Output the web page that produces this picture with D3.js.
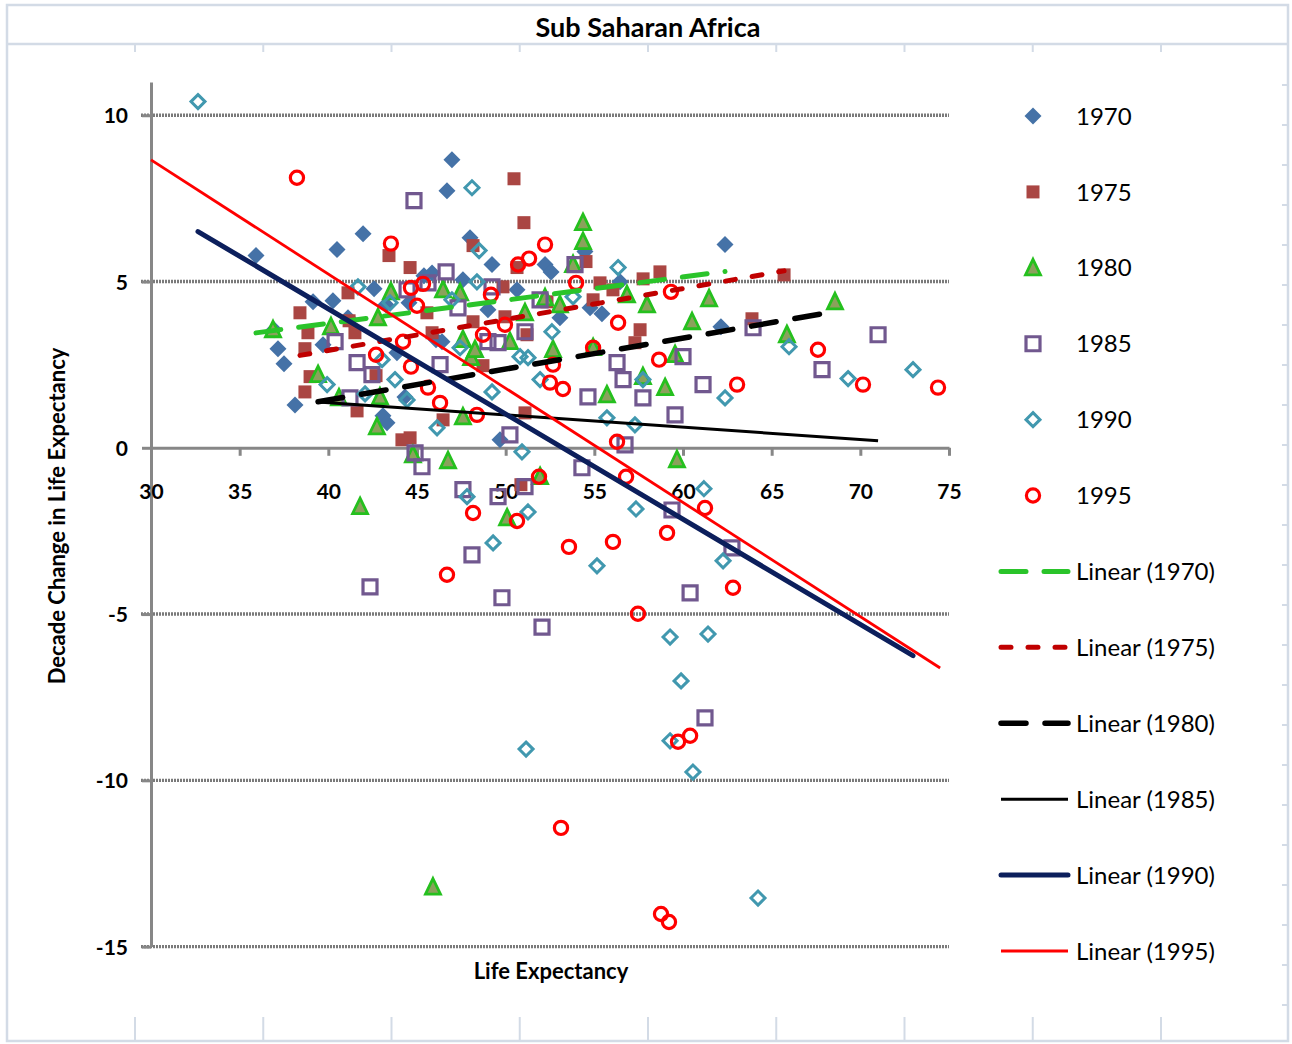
<!DOCTYPE html>
<html>
<head>
<meta charset="utf-8">
<script src="https://cdn.jsdelivr.net/npm/d3@7"></script>
<style>
  body { margin: 0; background: #fff; }
  svg { display: block; font-family: Lato, "Open Sans", sans-serif; }
</style>
</head>
<body>
<svg id="chart" width="1292" height="1044"></svg>
<script>
// series values: life expectancy (x) and decade change (y)
var le1970 = [35.92, 36.94, 37.16, 37.50, 38.12, 39.14, 39.70, 40.26, 40.49, 41.96, 42.58, 43.08, 43.31, 43.25, 43.87, 44.32, 44.55, 45.39, 45.85, 46.07, 46.69, 46.97, 47.59, 47.99, 49.00, 49.23, 49.68, 50.64, 52.22, 52.56, 54.47, 54.76, 55.43, 56.45, 62.14, 62.37, 53.06, 46.41, 41.11];
var dc1970 = [5.78, 3.55, 2.98, 2.53, 1.29, 4.39, 3.10, 4.42, 5.96, 6.44, 4.78, 0.96, 0.75, 4.30, 2.86, 1.53, 4.36, 5.17, 5.26, 3.25, 7.73, 8.66, 5.05, 6.32, 4.15, 5.51, 0.24, 4.75, 5.51, 5.29, 5.90, 4.21, 4.03, 4.99, 3.64, 6.11, 3.91, 3.19, 3.91];

var le1975 = [38.40, 38.85, 38.68, 38.97, 38.68, 41.17, 41.50, 41.62, 42.69, 43.42, 44.61, 41.11, 44.15, 44.61, 45.56, 45.85, 46.47, 48.16, 48.16, 48.72, 49.85, 49.96, 50.47, 51.03, 50.64, 51.20, 51.09, 50.86, 52.33, 54.53, 55.32, 54.93, 56.05, 57.29, 57.58, 57.75, 58.70, 63.89, 65.70];
var dc1975 = [4.06, 3.46, 2.98, 2.14, 1.68, 3.82, 3.46, 1.11, 2.17, 5.78, 5.42, 4.66, 0.24, 0.30, 4.06, 3.46, 0.84, 3.79, 6.08, 2.47, 4.84, 3.94, 8.09, 6.77, 5.42, 3.40, 1.05, -1.11, 4.39, 5.60, 4.96, 4.45, 4.75, 3.16, 3.55, 5.08, 5.29, 3.88, 5.20];

var le1980 = [36.88, 39.42, 40.15, 40.60, 41.79, 42.80, 42.74, 42.91, 43.53, 44.77, 46.47, 46.75, 47.43, 47.59, 47.59, 48.05, 48.27, 50.24, 50.08, 51.09, 51.94, 52.22, 52.67, 53.06, 53.80, 54.36, 54.36, 54.93, 55.71, 56.84, 57.74, 57.97, 58.99, 59.55, 59.66, 60.51, 61.47, 65.86, 68.57, 45.90];
var dc1980 = [3.55, 2.20, 3.64, 1.50, -1.77, 3.91, 0.63, 1.53, 4.69, -0.21, 4.75, -0.39, 4.66, 3.25, 0.93, 2.71, 2.95, 3.19, -2.11, 4.06, -0.87, 4.51, 2.95, 4.30, 5.51, 6.77, 6.20, 3.01, 1.59, 4.60, 2.14, 4.30, 1.81, 2.80, -0.36, 3.79, 4.48, 3.40, 4.39, -13.21];

var le1985 = [40.38, 41.62, 42.46, 41.22, 44.44, 44.83, 44.89, 45.28, 45.62, 46.30, 46.64, 47.31, 47.59, 48.10, 42.35, 49.00, 49.23, 49.57, 49.57, 49.79, 50.24, 51.09, 51.09, 51.94, 52.05, 53.91, 54.30, 54.64, 56.28, 56.62, 56.73, 57.74, 59.38, 59.55, 60.00, 60.40, 61.13, 61.24, 62.76, 63.95, 67.84, 71.00];
var dc1985 = [3.19, 2.56, 2.20, 1.50, 4.75, 7.43, -0.15, -0.57, 4.96, 2.50, 5.29, 4.21, -1.26, -3.22, -4.18, 3.19, 4.84, 3.16, -1.47, -4.51, 0.39, 3.49, -1.17, 4.45, -5.39, 5.51, -0.60, 1.53, 2.56, 2.05, 0.09, 1.50, -1.87, 0.99, 2.74, -4.36, 1.90, -8.12, -3.01, 3.61, 2.35, 3.40];

var le1990 = [32.65, 39.93, 41.67, 42.07, 43.03, 43.48, 43.76, 44.44, 46.13, 46.97, 47.43, 47.82, 48.10, 48.38, 48.50, 49.23, 49.29, 50.81, 50.92, 51.26, 51.26, 51.94, 51.15, 52.61, 53.80, 55.15, 55.71, 56.34, 57.35, 57.29, 57.74, 59.27, 59.27, 59.89, 60.56, 61.18, 61.41, 62.26, 62.37, 64.23, 65.98, 69.31, 72.97];
var dc1990 = [10.41, 1.90, 4.84, 1.62, 2.65, 4.36, 2.05, 1.44, 0.60, 4.45, 3.01, -1.47, 7.82, 4.99, 5.93, 1.68, -2.86, 2.74, -0.12, 2.71, -1.93, 2.05, -9.06, 3.49, 4.54, -3.55, 0.90, 5.42, -1.84, 0.69, 2.05, -5.69, -8.81, -7.01, -9.75, -1.23, -5.60, -3.40, 1.50, -13.54, 3.04, 2.08, 2.35];

var le1995 = [38.23, 42.69, 43.53, 44.21, 44.66, 44.66, 45.00, 45.34, 45.62, 46.30, 46.69, 48.16, 48.38, 48.72, 49.17, 49.96, 50.64, 50.70, 51.32, 51.88, 52.22, 52.50, 52.67, 53.12, 53.23, 53.57, 53.97, 54.93, 56.05, 56.28, 56.34, 56.79, 57.46, 58.65, 58.76, 59.10, 59.21, 59.32, 59.72, 60.40, 61.24, 62.82, 63.05, 67.61, 70.15, 74.38];
var dc1995 = [8.12, 2.80, 6.14, 3.19, 4.81, 2.44, 4.27, 4.93, 1.81, 1.35, -3.82, -1.96, 0.99, 3.40, 4.60, 3.70, -2.20, 5.51, 5.69, -0.87, 6.11, 1.96, 2.50, -11.43, 1.77, -2.98, 4.96, 3.01, -2.83, 0.18, 3.76, -0.87, -4.99, 2.65, -14.02, -2.56, -14.26, 4.69, -8.84, -8.66, -1.81, -4.21, 1.90, 2.95, 1.90, 1.81];

var years = ['1970', '1975', '1980', '1985', '1990', '1995'];

// linear trendlines
var trendSlope = [0.0698, 0.0931, 0.0931, -0.0370, -0.3163, -0.3434];
var trendIntercept = [0.949, -0.797, -2.287, 2.838, 16.83, 18.96];
var trendFrom = [35.92, 38.40, 39.42, 39.42, 32.65, 30.0];
var trendTo = [62.37, 65.70, 68.57, 71.00, 72.97, 74.5];

var xTicks = [30, 35, 40, 45, 50, 55, 60, 65, 70, 75];
var yTicks = [-15, -10, -5, 0, 5, 10];

var svg = d3.select('#chart');
var frame = '#d3dbe6';

// sheet frame
svg.append('rect').attr('x', 7).attr('y', 5).attr('width', 1281).attr('height', 1036)
  .attr('fill', '#fff').attr('stroke', frame).attr('stroke-width', 2.5);
svg.append('line').attr('x1', 7).attr('x2', 1288).attr('y1', 44).attr('y2', 44)
  .attr('stroke', frame).attr('stroke-width', 2.5);
d3.range(9).forEach(function(k) {
  var cx = 135 + k * 128.25;
  svg.append('line').attr('x1', cx).attr('x2', cx).attr('y1', 44).attr('y2', 52)
    .attr('stroke', frame).attr('stroke-width', 2);
  svg.append('line').attr('x1', cx).attr('x2', cx).attr('y1', 1017).attr('y2', 1041)
    .attr('stroke', frame).attr('stroke-width', 2);
});
d3.range(24).forEach(function(k) {
  svg.append('line').attr('x1', 1282).attr('x2', 1288).attr('y1', 85 + k * 40).attr('y2', 85 + k * 40)
    .attr('stroke', frame).attr('stroke-width', 2);
});

svg.append('text').attr('x', 648).attr('y', 37).attr('text-anchor', 'middle')
  .attr('font-size', 27).attr('font-weight', 'bold').text('Sub Saharan Africa');

var x = d3.scaleLinear().domain([30, 75]).range([151, 949]);
var y = d3.scaleLinear().domain([-15, 11]).range([946.6, 82]);

// gridlines
svg.append('g').selectAll('line')
  .data(yTicks.filter(function(d) { return d !== 0; }))
  .join('line')
  .attr('x1', 141).attr('x2', x(75))
  .attr('y1', function(d) { return y(d); }).attr('y2', function(d) { return y(d); })
  .attr('stroke', '#7a7a7a').attr('stroke-width', 3.4).attr('stroke-dasharray', '2,1');

// axes
var fmt = function(d) { return String(d); };
var yAxis = svg.append('g').attr('transform', 'translate(' + x(30) + ',0)')
  .call(d3.axisLeft(y).tickValues(yTicks).tickFormat(fmt).tickSize(9).tickSizeOuter(0).tickPadding(14));
var xAxis = svg.append('g').attr('transform', 'translate(0,' + y(0) + ')')
  .call(d3.axisBottom(x).tickValues(xTicks).tickFormat(fmt).tickSize(8).tickSizeOuter(0));
[xAxis, yAxis].forEach(function(g) {
  g.select('.domain').attr('stroke', '#878787').attr('stroke-width', 3);
  g.selectAll('.tick line').attr('stroke', '#878787').attr('stroke-width', 3);
  g.selectAll('.tick text').attr('fill', '#000').attr('font-size', 21)
    .attr('font-weight', 'bold').attr('font-family', 'Lato, sans-serif');
});
xAxis.selectAll('.tick text').attr('y', 44).attr('dy', '0.36em');
yAxis.selectAll('.tick text').attr('dy', '0.36em');

svg.append('text').attr('x', 551).attr('y', 979).attr('text-anchor', 'middle')
  .attr('font-size', 22).attr('font-weight', 'bold').text('Life Expectancy');
svg.append('text').attr('transform', 'translate(65,516) rotate(-90)').attr('text-anchor', 'middle')
  .attr('font-size', 22).attr('font-weight', 'bold').text('Decade Change in Life Expectancy');

// marker shapes
var markers = [
  { d: 'M0,-8.5L8.5,0L0,8.5L-8.5,0Z', fill: '#4572A7', stroke: 'none', sw: 0 },
  { d: 'M-6.5,-6.5H6.5V6.5H-6.5Z', fill: '#AA4643', stroke: 'none', sw: 0 },
  { d: 'M0,-8.5L7.5,7L-7.5,7Z', fill: '#8ba15c', stroke: '#25c01e', sw: 2.8 },
  { d: 'M-7,-7H7V7H-7Z', fill: 'none', stroke: '#71588F', sw: 3.2 },
  { d: 'M0,-7L7,0L0,7L-7,0Z', fill: 'none', stroke: '#4198AF', sw: 3 },
  { d: 'M6.6,0A6.6,6.6 0 1,1 -6.6,0A6.6,6.6 0 1,1 6.6,0Z', fill: 'none', stroke: '#FF0000', sw: 3.2 }
];

var seriesX = [le1970, le1975, le1980, le1985, le1990, le1995];
var seriesY = [dc1970, dc1975, dc1980, dc1985, dc1990, dc1995];

seriesX.forEach(function(xs, i) {
  var m = markers[i];
  var pts = xs.map(function(v, j) { return [v, seriesY[i][j]]; });
  svg.append('g').selectAll('path').data(pts).join('path')
    .attr('transform', function(p) { return 'translate(' + x(p[0]) + ',' + y(p[1]) + ')'; })
    .attr('d', m.d).attr('fill', m.fill).attr('stroke', m.stroke).attr('stroke-width', m.sw);
});

// trendline styles
var trendStyle = [
  { color: '#2ac42a', w: 5, dash: '25,18', cap: 'round' },
  { color: '#c00000', w: 5, dash: '10,17', cap: 'round' },
  { color: '#000000', w: 5.5, dash: '25,19', cap: 'round' },
  { color: '#000000', w: 3, dash: null, cap: 'butt' },
  { color: '#0c1f5c', w: 5, dash: null, cap: 'round' },
  { color: '#ff0000', w: 2.8, dash: null, cap: 'butt' }
];

var line = d3.line().x(function(p) { return x(p[0]); }).y(function(p) { return y(p[1]); });
years.forEach(function(yr, i) {
  var pts = [trendFrom[i], trendTo[i]].map(function(v) {
    return [v, trendIntercept[i] + trendSlope[i] * v];
  });
  var s = trendStyle[i];
  svg.append('path').attr('d', line(pts)).attr('fill', 'none')
    .attr('stroke', s.color).attr('stroke-width', s.w).attr('stroke-linecap', s.cap)
    .attr('stroke-dasharray', s.dash);
});

// legend
var legendY = d3.scaleLinear().domain([0, 11]).range([116, 951]);
var legend = svg.append('g');
years.forEach(function(yr, i) {
  var m = markers[i];
  var ly = legendY(i);
  legend.append('path').attr('transform', 'translate(1033,' + ly + ')')
    .attr('d', m.d).attr('fill', m.fill).attr('stroke', m.stroke).attr('stroke-width', m.sw);
  legend.append('text').attr('x', 1076).attr('y', ly).attr('dy', '0.36em')
    .attr('font-size', 24).text(yr);
});
years.forEach(function(yr, i) {
  var s = trendStyle[i];
  var ly = legendY(i + 6);
  legend.append('line').attr('x1', 1001).attr('x2', 1068).attr('y1', ly).attr('y2', ly)
    .attr('stroke', s.color).attr('stroke-width', s.w).attr('stroke-linecap', s.cap)
    .attr('stroke-dasharray', s.dash);
  legend.append('text').attr('x', 1076).attr('y', ly).attr('dy', '0.36em')
    .attr('font-size', 24).text('Linear (' + yr + ')');
});
</script>
</body>
</html>
